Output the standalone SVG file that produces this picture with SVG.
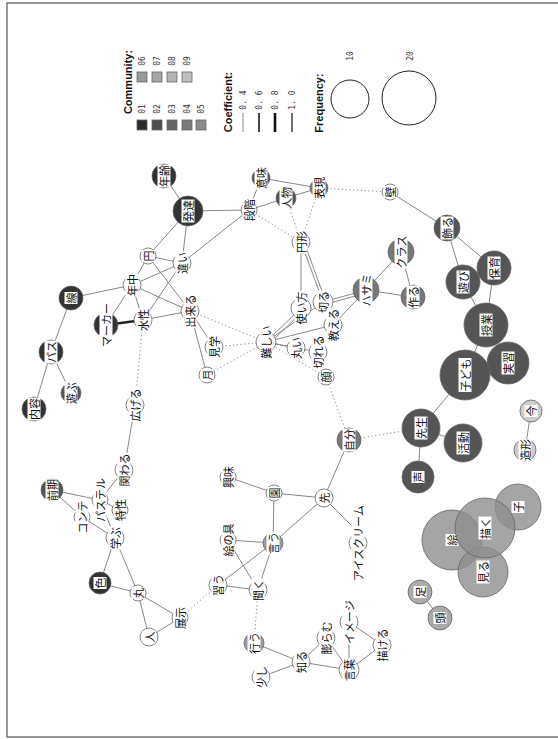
<svg xmlns="http://www.w3.org/2000/svg" width="558" height="739" viewBox="0 0 558 739">
<style>
.e{stroke:#888;stroke-width:1;fill:none}
.d{stroke:#888;stroke-width:1;stroke-dasharray:1.2 2.6;fill:none}
.k{stroke:#222;stroke-width:2.5;fill:none}
.n{stroke:#666;stroke-width:0.8}
.w{fill:#fff}.c1{fill:#333}.c2{fill:#555}.c3{fill:#777}.c4{fill:#999}.c5{fill:#aaa}.c6{fill:#ccc}
.g4{fill:#8f8f8f;fill-opacity:0.8}
.lb{fill:#fff}
.t{font-family:"Noto Sans CJK JP",sans-serif;font-size:11px;text-anchor:middle;dominant-baseline:central;fill:#111}
.lg{font-family:"Liberation Sans",Arial,sans-serif;font-size:11px;font-weight:bold;fill:#111}
.ls{font-family:"DejaVu Sans Mono","Liberation Mono",monospace;font-size:8px;fill:#333;text-anchor:middle;dominant-baseline:central}
</style>
<rect x="7" y="3" width="560" height="734" fill="#fff" stroke="#555" stroke-width="1.2"/>
<g id="legend">
<text class="lg" transform="translate(132,82) rotate(-90)" text-anchor="middle">Community:</text>
<g class="n">
<rect x="137" y="120" width="10" height="10" fill="#2b2b2b"/>
<rect x="152" y="120" width="10" height="10" fill="#4d4d4d"/>
<rect x="167" y="120" width="10" height="10" fill="#666"/>
<rect x="182" y="120" width="10" height="10" fill="#7a7a7a"/>
<rect x="196" y="120" width="10" height="10" fill="#8c8c8c"/>
<rect x="137" y="72" width="10" height="10" fill="#999"/>
<rect x="152" y="72" width="10" height="10" fill="#a6a6a6"/>
<rect x="167" y="72" width="10" height="10" fill="#b3b3b3"/>
<rect x="182" y="72" width="10" height="10" fill="#c0c0c0"/>
</g>
<text class="ls" transform="translate(142,109) rotate(-90)">01</text>
<text class="ls" transform="translate(157,109) rotate(-90)">02</text>
<text class="ls" transform="translate(172,109) rotate(-90)">03</text>
<text class="ls" transform="translate(187,109) rotate(-90)">04</text>
<text class="ls" transform="translate(201,109) rotate(-90)">05</text>
<text class="ls" transform="translate(142,61) rotate(-90)">06</text>
<text class="ls" transform="translate(157,61) rotate(-90)">07</text>
<text class="ls" transform="translate(172,61) rotate(-90)">08</text>
<text class="ls" transform="translate(187,61) rotate(-90)">09</text>
<text class="lg" transform="translate(232,102) rotate(-90)" text-anchor="middle">Coefficient:</text>
<line x1="243" y1="113" x2="243" y2="132" stroke="#888" stroke-width="1"/>
<line x1="259" y1="113" x2="259" y2="132" stroke="#333" stroke-width="1.8"/>
<line x1="275" y1="113" x2="275" y2="132" stroke="#111" stroke-width="2.6"/>
<line x1="292" y1="113" x2="292" y2="132" stroke="#111" stroke-width="1.2"/>
<text class="ls" transform="translate(243,100) rotate(-90)">0. 4</text>
<text class="ls" transform="translate(259,100) rotate(-90)">0. 6</text>
<text class="ls" transform="translate(275,100) rotate(-90)">0. 8</text>
<text class="ls" transform="translate(292,100) rotate(-90)">1. 0</text>
<text class="lg" transform="translate(323,103) rotate(-90)" text-anchor="middle">Frequency:</text>
<circle cx="350" cy="99" r="19" fill="none" stroke="#222"/>
<circle cx="409" cy="98" r="27" fill="none" stroke="#222"/>
<text class="ls" transform="translate(350,56) rotate(-90)">10</text>
<text class="ls" transform="translate(410,56) rotate(-90)">20</text>
</g>
<g id="edges">
<line class="e" x1="164" y1="176" x2="188" y2="211"/>
<line class="e" x1="188" y1="211" x2="249" y2="210"/>
<line class="e" x1="188" y1="211" x2="148" y2="256"/>
<line class="e" x1="188" y1="211" x2="182" y2="263"/>
<line class="e" x1="249" y1="210" x2="182" y2="263"/>
<line class="e" x1="249" y1="210" x2="286" y2="198"/>
<line class="e" x1="249" y1="210" x2="261" y2="178"/>
<line class="e" x1="261" y1="178" x2="319" y2="188"/>
<line class="e" x1="286" y1="198" x2="319" y2="188"/>
<line class="d" x1="319" y1="188" x2="390" y2="192"/>
<line class="d" x1="249" y1="210" x2="301" y2="242"/>
<line class="d" x1="286" y1="198" x2="301" y2="242"/>
<line class="d" x1="319" y1="188" x2="301" y2="242"/>
<line class="e" x1="148" y1="256" x2="182" y2="263"/>
<line class="e" x1="148" y1="256" x2="132" y2="285"/>
<line class="e" x1="148" y1="256" x2="190" y2="311"/>
<line class="e" x1="132" y1="285" x2="182" y2="263"/>
<line class="e" x1="132" y1="285" x2="190" y2="311"/>
<line class="e" x1="132" y1="285" x2="71" y2="298"/>
<line class="e" x1="132" y1="285" x2="106" y2="325"/>
<line class="e" x1="132" y1="285" x2="143" y2="320"/>
<line class="k" x1="143" y1="320" x2="106" y2="325"/>
<line class="e" x1="143" y1="320" x2="190" y2="311"/>
<line class="e" x1="143" y1="320" x2="182" y2="263"/>
<line class="d" x1="143" y1="320" x2="135" y2="405"/>
<line class="e" x1="71" y1="298" x2="51" y2="352"/>
<line class="e" x1="51" y1="352" x2="34" y2="409"/>
<line class="e" x1="51" y1="352" x2="71" y2="393"/>
<line class="d" x1="190" y1="311" x2="266" y2="342"/>
<line class="e" x1="190" y1="311" x2="214" y2="347"/>
<line class="e" x1="190" y1="311" x2="207" y2="375"/>
<line class="d" x1="214" y1="347" x2="266" y2="342"/>
<line class="d" x1="207" y1="375" x2="266" y2="342"/>
<line class="e" x1="301" y1="242" x2="301" y2="308"/>
<line class="e" x1="301" y1="242" x2="323" y2="302"/>
<line class="e" x1="304" y1="242" x2="326" y2="302"/>
<line class="e" x1="266" y1="342" x2="301" y2="308"/>
<line class="e" x1="268" y1="345" x2="303" y2="311"/>
<line class="e" x1="266" y1="342" x2="323" y2="302"/>
<line class="e" x1="266" y1="342" x2="296" y2="348"/>
<line class="e" x1="266" y1="342" x2="318" y2="352"/>
<line class="e" x1="266" y1="342" x2="333" y2="325"/>
<line class="e" x1="323" y1="302" x2="366" y2="290"/>
<line class="e" x1="323" y1="305" x2="366" y2="293"/>
<line class="e" x1="333" y1="325" x2="366" y2="290"/>
<line class="e" x1="366" y1="290" x2="401" y2="252"/>
<line class="e" x1="366" y1="290" x2="413" y2="297"/>
<line class="e" x1="401" y1="252" x2="413" y2="297"/>
<line class="d" x1="266" y1="342" x2="326" y2="377"/>
<line class="d" x1="326" y1="377" x2="349" y2="440"/>
<line class="d" x1="349" y1="440" x2="421" y2="428"/>
<line class="e" x1="349" y1="440" x2="324" y2="498"/>
<line class="e" x1="390" y1="192" x2="447" y2="228"/>
<line class="e" x1="447" y1="228" x2="463" y2="282"/>
<line class="e" x1="447" y1="228" x2="494" y2="268"/>
<line class="e" x1="463" y1="282" x2="486" y2="325"/>
<line class="e" x1="494" y1="268" x2="486" y2="325"/>
<line class="e" x1="486" y1="325" x2="465" y2="375"/>
<line class="e" x1="465" y1="375" x2="421" y2="428"/>
<line class="e" x1="421" y1="428" x2="463" y2="443"/>
<line class="e" x1="421" y1="428" x2="418" y2="477"/>
<line class="e" x1="531" y1="411" x2="525" y2="450"/>
<line class="e" x1="420" y1="592" x2="440" y2="618"/>
<line class="e" x1="324" y1="498" x2="274" y2="493"/>
<line class="e" x1="324" y1="498" x2="273" y2="543"/>
<line class="e" x1="324" y1="498" x2="356" y2="530"/>
<line class="e" x1="274" y1="493" x2="228" y2="477"/>
<line class="e" x1="274" y1="493" x2="273" y2="543"/>
<line class="e" x1="273" y1="543" x2="228" y2="540"/>
<line class="e" x1="273" y1="543" x2="218" y2="585"/>
<line class="e" x1="273" y1="543" x2="258" y2="590"/>
<line class="e" x1="228" y1="540" x2="258" y2="590"/>
<line class="e" x1="218" y1="585" x2="258" y2="590"/>
<line class="d" x1="218" y1="585" x2="180" y2="618"/>
<line class="d" x1="258" y1="590" x2="254" y2="643"/>
<line class="e" x1="254" y1="643" x2="301" y2="662"/>
<line class="e" x1="261" y1="677" x2="301" y2="662"/>
<line class="e" x1="301" y1="662" x2="326" y2="638"/>
<line class="e" x1="301" y1="662" x2="349" y2="670"/>
<line class="e" x1="326" y1="638" x2="349" y2="670"/>
<line class="e" x1="349" y1="622" x2="349" y2="670"/>
<line class="e" x1="349" y1="622" x2="382" y2="645"/>
<line class="e" x1="349" y1="670" x2="382" y2="645"/>
<line class="e" x1="180" y1="618" x2="138" y2="593"/>
<line class="e" x1="180" y1="618" x2="149" y2="637"/>
<line class="e" x1="138" y1="593" x2="149" y2="637"/>
<line class="e" x1="138" y1="593" x2="100" y2="583"/>
<line class="e" x1="138" y1="593" x2="115" y2="538"/>
<line class="e" x1="100" y1="583" x2="115" y2="538"/>
<line class="e" x1="115" y1="538" x2="82" y2="517"/>
<line class="e" x1="115" y1="538" x2="100" y2="500"/>
<line class="e" x1="120" y1="510" x2="100" y2="500"/>
<line class="e" x1="52" y1="490" x2="82" y2="517"/>
<line class="e" x1="52" y1="490" x2="100" y2="500"/>
<line class="e" x1="124" y1="470" x2="100" y2="500"/>
<line class="e" x1="124" y1="470" x2="135" y2="405"/>
</g>
<g id="n-nenrei" transform="translate(164,176)"><circle r="12" class="n c1"/><rect class="lb" x="-6.5" y="-11.5" width="13" height="23"/><text class="t" transform="rotate(-90)">年齢</text></g>
<g id="n-hattatsu" transform="translate(188,211)"><circle r="15" class="n c1"/><rect class="lb" x="-6.5" y="-11.5" width="13" height="23"/><text class="t" transform="rotate(-90)">発達</text></g>
<g id="n-imi" transform="translate(261,178)"><circle r="9" class="n c2"/><rect class="lb" x="-6.5" y="-11.5" width="13" height="23"/><text class="t" transform="rotate(-90)">意味</text></g>
<g id="n-dankai" transform="translate(249,210)"><circle r="8" class="n w"/><rect class="lb" x="-6.5" y="-11.5" width="13" height="23"/><text class="t" transform="rotate(-90)">段階</text></g>
<g id="n-jinbutsu" transform="translate(286,198)"><circle r="10" class="n c2"/><rect class="lb" x="-6.5" y="-11.5" width="13" height="23"/><text class="t" transform="rotate(-90)">人物</text></g>
<g id="n-hyogen" transform="translate(319,188)"><circle r="9" class="n c3"/><rect class="lb" x="-6.5" y="-11.5" width="13" height="23"/><text class="t" transform="rotate(-90)">表現</text></g>
<g id="n-kabe" transform="translate(390,192)"><circle r="8" class="n w"/><rect class="lb" x="-6.5" y="-6" width="13" height="12"/><text class="t" transform="rotate(-90)">壁</text></g>
<g id="n-enkei" transform="translate(301,242)"><circle r="9" class="n w"/><rect class="lb" x="-6.5" y="-11.5" width="13" height="23"/><text class="t" transform="rotate(-90)">円形</text></g>
<g id="n-en" transform="translate(148,256)"><circle r="8" class="n w"/><rect class="lb" x="-6.5" y="-6" width="13" height="12"/><text class="t" transform="rotate(-90)">円</text></g>
<g id="n-chigai" transform="translate(182,263)"><circle r="9" class="n w"/><rect class="lb" x="-6.5" y="-11.5" width="13" height="23"/><text class="t" transform="rotate(-90)">違い</text></g>
<g id="n-nenchu" transform="translate(132,285)"><circle r="9" class="n w"/><rect class="lb" x="-6.5" y="-11.5" width="13" height="23"/><text class="t" transform="rotate(-90)">年中</text></g>
<g id="n-sen" transform="translate(71,298)"><circle r="12" class="n c1"/><rect class="lb" x="-6.5" y="-6" width="13" height="12"/><text class="t" transform="rotate(-90)">線</text></g>
<g id="n-suisei" transform="translate(143,320)"><circle r="9" class="n w"/><rect class="lb" x="-6.5" y="-11.5" width="13" height="23"/><text class="t" transform="rotate(-90)">水性</text></g>
<g id="n-marker" transform="translate(106,325)"><circle r="12" class="n c1"/><rect class="lb" x="-6.5" y="-17" width="13" height="34"/><text class="t" transform="rotate(-90)">マーカー</text></g>
<g id="n-dekiru" transform="translate(190,311)"><circle r="9" class="n w"/><rect class="lb" x="-6.5" y="-17" width="13" height="34"/><text class="t" transform="rotate(-90)">出来る</text></g>
<g id="n-pasu" transform="translate(51,352)"><circle r="12" class="n c1"/><rect class="lb" x="-6.5" y="-11.5" width="13" height="23"/><text class="t" transform="rotate(-90)">パス</text></g>
<g id="n-naiyo" transform="translate(34,409)"><circle r="12" class="n c1"/><rect class="lb" x="-6.5" y="-11.5" width="13" height="23"/><text class="t" transform="rotate(-90)">内容</text></g>
<g id="n-asobu" transform="translate(71,393)"><circle r="10" class="n c2"/><rect class="lb" x="-6.5" y="-11.5" width="13" height="23"/><text class="t" transform="rotate(-90)">遊ぶ</text></g>
<g id="n-hirogeru" transform="translate(135,405)"><circle r="9" class="n w"/><rect class="lb" x="-6.5" y="-17" width="13" height="34"/><text class="t" transform="rotate(-90)">広げる</text></g>
<g id="n-kengaku" transform="translate(214,347)"><circle r="9" class="n w"/><rect class="lb" x="-6.5" y="-11.5" width="13" height="23"/><text class="t" transform="rotate(-90)">見学</text></g>
<g id="n-tsuki" transform="translate(207,375)"><circle r="8" class="n w"/><rect class="lb" x="-6.5" y="-6" width="13" height="12"/><text class="t" transform="rotate(-90)">月</text></g>
<g id="n-muzukashii" transform="translate(266,342)"><circle r="10" class="n w"/><rect class="lb" x="-6.5" y="-17" width="13" height="34"/><text class="t" transform="rotate(-90)">難しい</text></g>
<g id="n-tsukaikata" transform="translate(301,308)"><circle r="10" class="n w"/><rect class="lb" x="-6.5" y="-17" width="13" height="34"/><text class="t" transform="rotate(-90)">使い方</text></g>
<g id="n-kiru" transform="translate(323,302)"><circle r="10" class="n w"/><rect class="lb" x="-6.5" y="-11.5" width="13" height="23"/><text class="t" transform="rotate(-90)">切る</text></g>
<g id="n-oshieru" transform="translate(333,325)"><circle r="9" class="n w"/><rect class="lb" x="-6.5" y="-17" width="13" height="34"/><text class="t" transform="rotate(-90)">教える</text></g>
<g id="n-marui" transform="translate(296,348)"><circle r="9" class="n w"/><rect class="lb" x="-6.5" y="-11.5" width="13" height="23"/><text class="t" transform="rotate(-90)">丸い</text></g>
<g id="n-kireru" transform="translate(318,352)"><circle r="9" class="n w"/><rect class="lb" x="-6.5" y="-17" width="13" height="34"/><text class="t" transform="rotate(-90)">切れる</text></g>
<g id="n-hasami" transform="translate(366,290)"><circle r="13" class="n c3"/><rect class="lb" x="-6.5" y="-17" width="13" height="34"/><text class="t" transform="rotate(-90)">ハサミ</text></g>
<g id="n-kurasu" transform="translate(401,252)"><circle r="13" class="n c3"/><rect class="lb" x="-6.5" y="-17" width="13" height="34"/><text class="t" transform="rotate(-90)">クラス</text></g>
<g id="n-tsukuru" transform="translate(413,297)"><circle r="12" class="n c3"/><rect class="lb" x="-6.5" y="-11.5" width="13" height="23"/><text class="t" transform="rotate(-90)">作る</text></g>
<g id="n-kao" transform="translate(326,377)"><circle r="8" class="n w"/><rect class="lb" x="-6.5" y="-6" width="13" height="12"/><text class="t" transform="rotate(-90)">顔</text></g>
<g id="n-jibun" transform="translate(349,440)"><circle r="12" class="n c3"/><rect class="lb" x="-6.5" y="-11.5" width="13" height="23"/><text class="t" transform="rotate(-90)">自分</text></g>
<g id="n-kazaru" transform="translate(447,228)"><circle r="13" class="n c2"/><rect class="lb" x="-6.5" y="-11.5" width="13" height="23"/><text class="t" transform="rotate(-90)">飾る</text></g>
<g id="n-asobi" transform="translate(463,282)"><circle r="17" class="n c2"/><rect class="lb" x="-6.5" y="-11.5" width="13" height="23"/><text class="t" transform="rotate(-90)">遊び</text></g>
<g id="n-hoiku" transform="translate(494,268)"><circle r="17" class="n c2"/><rect class="lb" x="-6.5" y="-11.5" width="13" height="23"/><text class="t" transform="rotate(-90)">保育</text></g>
<g id="n-jugyo" transform="translate(486,325)"><circle r="22" class="n c2"/><rect class="lb" x="-6.5" y="-11.5" width="13" height="23"/><text class="t" transform="rotate(-90)">授業</text></g>
<g id="n-jisshu" transform="translate(508,363)"><circle r="21" class="n c2"/><rect class="lb" x="-6.5" y="-11.5" width="13" height="23"/><text class="t" transform="rotate(-90)">実習</text></g>
<g id="n-kodomo" transform="translate(465,375)"><circle r="25" class="n c2"/><rect class="lb" x="-6.5" y="-17" width="13" height="34"/><text class="t" transform="rotate(-90)">子ども</text></g>
<g id="n-sensei" transform="translate(421,428)"><circle r="19" class="n c2"/><rect class="lb" x="-6.5" y="-11.5" width="13" height="23"/><text class="t" transform="rotate(-90)">先生</text></g>
<g id="n-katsudo" transform="translate(463,443)"><circle r="19" class="n c2"/><rect class="lb" x="-6.5" y="-11.5" width="13" height="23"/><text class="t" transform="rotate(-90)">活動</text></g>
<g id="n-koe" transform="translate(418,477)"><circle r="16" class="n c2"/><rect class="lb" x="-6.5" y="-6" width="13" height="12"/><text class="t" transform="rotate(-90)">声</text></g>
<g id="n-ima" transform="translate(531,411)"><circle r="11" class="n c6"/><rect class="lb" x="-6.5" y="-6" width="13" height="12"/><text class="t" transform="rotate(-90)">今</text></g>
<g id="n-zokei" transform="translate(525,450)"><circle r="11" class="n c6"/><rect class="lb" x="-6.5" y="-11.5" width="13" height="23"/><text class="t" transform="rotate(-90)">造形</text></g>
<g id="n-ko" transform="translate(518,507)"><circle r="23" class="n g4"/><rect class="lb" x="-6.5" y="-6" width="13" height="12"/><text class="t" transform="rotate(-90)">子</text></g>
<g id="n-e" transform="translate(452,540)"><circle r="30" class="n g4"/><rect class="lb" x="-6.5" y="-6" width="13" height="12"/><text class="t" transform="rotate(-90)">絵</text></g>
<g id="n-miru" transform="translate(483,572)"><circle r="25" class="n g4"/><rect class="lb" x="-6.5" y="-11.5" width="13" height="23"/><text class="t" transform="rotate(-90)">見る</text></g>
<g id="n-egaku" transform="translate(485,528)"><circle r="30" class="n g4"/><rect class="lb" x="-6.5" y="-11.5" width="13" height="23"/><text class="t" transform="rotate(-90)">描く</text></g>
<g id="n-ashi" transform="translate(420,592)"><circle r="12" class="n c5"/><rect class="lb" x="-6.5" y="-6" width="13" height="12"/><text class="t" transform="rotate(-90)">足</text></g>
<g id="n-atama" transform="translate(440,618)"><circle r="12" class="n c5"/><rect class="lb" x="-6.5" y="-6" width="13" height="12"/><text class="t" transform="rotate(-90)">頭</text></g>
<g id="n-kyomi" transform="translate(228,477)"><circle r="8" class="n w"/><rect class="lb" x="-6.5" y="-11.5" width="13" height="23"/><text class="t" transform="rotate(-90)">興味</text></g>
<g id="n-sono" transform="translate(274,493)"><circle r="8" class="n w"/><rect class="lb" x="-6.5" y="-6" width="13" height="12"/><text class="t" transform="rotate(-90)">園</text></g>
<g id="n-saki" transform="translate(324,498)"><circle r="9" class="n w"/><rect class="lb" x="-6.5" y="-6" width="13" height="12"/><text class="t" transform="rotate(-90)">先</text></g>
<g id="n-ice" transform="translate(358,543)"><circle r="9" class="n w"/><rect class="lb" x="-6.5" y="-39" width="13" height="78"/><text class="t" transform="rotate(-90)">アイスクリーム</text></g>
<g id="n-iu" transform="translate(273,543)"><circle r="10" class="n c4"/><rect class="lb" x="-6.5" y="-11.5" width="13" height="23"/><text class="t" transform="rotate(-90)">言う</text></g>
<g id="n-enogu" transform="translate(228,540)"><circle r="8" class="n w"/><rect class="lb" x="-6.5" y="-17" width="13" height="34"/><text class="t" transform="rotate(-90)">絵の具</text></g>
<g id="n-narau" transform="translate(218,585)"><circle r="9" class="n w"/><rect class="lb" x="-6.5" y="-11.5" width="13" height="23"/><text class="t" transform="rotate(-90)">習う</text></g>
<g id="n-kiku" transform="translate(258,590)"><circle r="9" class="n w"/><rect class="lb" x="-6.5" y="-11.5" width="13" height="23"/><text class="t" transform="rotate(-90)">聞く</text></g>
<g id="n-okonau" transform="translate(254,643)"><circle r="10" class="n c4"/><rect class="lb" x="-6.5" y="-11.5" width="13" height="23"/><text class="t" transform="rotate(-90)">行う</text></g>
<g id="n-sukoshi" transform="translate(261,677)"><circle r="9" class="n w"/><rect class="lb" x="-6.5" y="-11.5" width="13" height="23"/><text class="t" transform="rotate(-90)">少し</text></g>
<g id="n-shiru" transform="translate(301,662)"><circle r="9" class="n w"/><rect class="lb" x="-6.5" y="-11.5" width="13" height="23"/><text class="t" transform="rotate(-90)">知る</text></g>
<g id="n-fukuramu" transform="translate(326,638)"><circle r="9" class="n w"/><rect class="lb" x="-6.5" y="-17" width="13" height="34"/><text class="t" transform="rotate(-90)">膨らむ</text></g>
<g id="n-image" transform="translate(349,622)"><circle r="9" class="n w"/><rect class="lb" x="-6.5" y="-22.5" width="13" height="45"/><text class="t" transform="rotate(-90)">イメージ</text></g>
<g id="n-kotoba" transform="translate(349,670)"><circle r="10" class="n w"/><rect class="lb" x="-6.5" y="-11.5" width="13" height="23"/><text class="t" transform="rotate(-90)">言葉</text></g>
<g id="n-egakeru" transform="translate(382,645)"><circle r="9" class="n w"/><rect class="lb" x="-6.5" y="-17" width="13" height="34"/><text class="t" transform="rotate(-90)">描ける</text></g>
<g id="n-kakawaru" transform="translate(124,470)"><circle r="9" class="n w"/><rect class="lb" x="-6.5" y="-17" width="13" height="34"/><text class="t" transform="rotate(-90)">関わる</text></g>
<g id="n-zenki" transform="translate(52,490)"><circle r="11" class="n c2"/><rect class="lb" x="-6.5" y="-11.5" width="13" height="23"/><text class="t" transform="rotate(-90)">前期</text></g>
<g id="n-konte" transform="translate(82,517)"><circle r="8" class="n w"/><rect class="lb" x="-6.5" y="-17" width="13" height="34"/><text class="t" transform="rotate(-90)">コンテ</text></g>
<g id="n-pastel" transform="translate(100,500)"><circle r="8" class="n w"/><rect class="lb" x="-6.5" y="-22.5" width="13" height="45"/><text class="t" transform="rotate(-90)">パステル</text></g>
<g id="n-tokusei" transform="translate(120,510)"><circle r="8" class="n w"/><rect class="lb" x="-6.5" y="-11.5" width="13" height="23"/><text class="t" transform="rotate(-90)">特性</text></g>
<g id="n-manabu" transform="translate(115,538)"><circle r="9" class="n w"/><rect class="lb" x="-6.5" y="-11.5" width="13" height="23"/><text class="t" transform="rotate(-90)">学ぶ</text></g>
<g id="n-iro" transform="translate(100,583)"><circle r="11" class="n c1"/><rect class="lb" x="-6.5" y="-6" width="13" height="12"/><text class="t" transform="rotate(-90)">色</text></g>
<g id="n-maru" transform="translate(138,593)"><circle r="8" class="n w"/><rect class="lb" x="-6.5" y="-6" width="13" height="12"/><text class="t" transform="rotate(-90)">丸</text></g>
<g id="n-tenji" transform="translate(180,618)"><circle r="8" class="n w"/><rect class="lb" x="-6.5" y="-11.5" width="13" height="23"/><text class="t" transform="rotate(-90)">展示</text></g>
<g id="n-hito" transform="translate(149,637)"><circle r="9" class="n w"/><rect class="lb" x="-6.5" y="-6" width="13" height="12"/><text class="t" transform="rotate(-90)">人</text></g>
</svg>
